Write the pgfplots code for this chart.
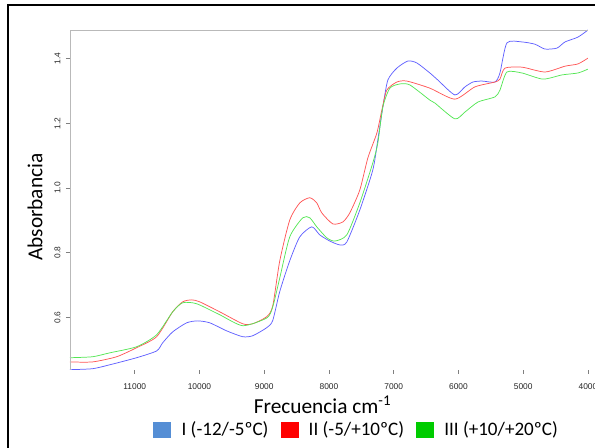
\documentclass[border=0pt]{standalone}
\usepackage{fontspec}
\setmainfont{Carlito}
\newfontfamily\arialf{Liberation Sans}
\usepackage{pgfplots}
\pgfplotsset{compat=1.18}
\definecolor{cblue}{RGB}{95,95,255}
\definecolor{cred}{RGB}{255,85,85}
\definecolor{cgreen}{RGB}{85,230,85}
\definecolor{lblue}{RGB}{85,142,213}
\definecolor{lred}{RGB}{255,0,0}
\definecolor{lgreen}{RGB}{0,204,0}
\begin{document}
\begin{tikzpicture}
\useasboundingbox (0pt,0pt) rectangle (446.25pt,336pt);
\draw[line width=1.1pt] (6pt,-10pt) -- (6pt,332.25pt) -- (460pt,332.25pt);
\begin{axis}[
  at={(52.5pt,58.5pt)}, anchor=south west,
  scale only axis, width=388.5pt, height=255pt,
  xmin=4000, xmax=12000, ymin=0.437, ymax=1.489, x dir=reverse,
  axis line style={draw=none},
  tick align=outside, major tick length=3pt,
  tick style={gray, line width=0.5pt},
  xtick={4000,5000,6000,7000,8000,9000,10000,11000},
  ytick={0.6,0.8,1.0,1.2,1.4},
  scaled x ticks=false, scaled y ticks=false,
  xtick pos=bottom, ytick pos=left,
  ticklabel style={font=\arialf\fontsize{6.3}{7}\selectfont, text=black!85},
  /pgf/number format/assume math mode=true,
  /pgf/number format/1000 sep={},
  xticklabel style={/pgf/number format/fixed, /pgf/number format/precision=0, anchor=north, inner sep=1pt, yshift=-6pt},
  yticklabel style={/pgf/number format/fixed, /pgf/number format/fixed zerofill, /pgf/number format/precision=1, rotate=90, anchor=south, inner sep=4pt},
  xlabel={Frecuencia cm\textsuperscript{-1}},
  ylabel={Absorbancia},
  label style={font=\fontsize{16}{18}\selectfont},
  xlabel style={at={(axis description cs:0.4875,-0.103)}, anchor=center},
  ylabel style={at={(axis description cs:-0.0676,0.479)}, anchor=center},
  legend columns=3,
  legend style={at={(axis description cs:0.554,-0.176)}, anchor=center, draw=none, fill=none,
    font=\fontsize{14.3}{16}\selectfont, inner sep=0pt,
    /tikz/every odd column/.append style={column sep=6pt},
    /tikz/every even column/.append style={column sep=7pt}},
  legend cell align=left,
]
\addlegendimage{legend image code/.code={\fill[lblue] (0pt,-5.6pt) rectangle (12.75pt,5.6pt);}}
\addlegendimage{legend image code/.code={\fill[lred] (0pt,-5.6pt) rectangle (12.75pt,5.6pt);}}
\addlegendimage{legend image code/.code={\fill[lgreen] (0pt,-5.6pt) rectangle (12.75pt,5.6pt);}}
\legend{I (-12/-5ºC), II (-5/+10ºC), III (+10/+20ºC)}

\addplot[cblue, line width=0.55pt, smooth, tension=0.4] coordinates {
(12000,0.438) (11651,0.441) (11388,0.453) (10971,0.475) (10662,0.496) (10569,0.521)
(10414,0.555) (10198,0.583) (10029,0.589) (9842,0.583) (9579,0.558) (9332,0.540)
(9178,0.543) (8961,0.568) (8869,0.590) (8760,0.680) (8606,0.775) (8451,0.849)
(8266,0.880) (8142,0.855) (7988,0.836) (7833,0.824) (7725,0.833) (7524,0.932)
(7323,1.056) (7246,1.149) (7168,1.251) (7091,1.334) (6952,1.371) (6782,1.393)
(6643,1.387) (6442,1.356) (6318,1.334) (6056,1.288) (5901,1.313) (5777,1.328)
(5638,1.331) (5437,1.328) (5360,1.356) (5252,1.449) (5020,1.452) (4819,1.445)
(4665,1.430) (4479,1.433) (4355,1.452) (4155,1.467) (4000,1.489)
};
\addplot[cred, line width=0.55pt, smooth, tension=0.4] coordinates {
(12000,0.462) (11651,0.462) (11280,0.478) (10971,0.506) (10662,0.540) (10414,0.617)
(10259,0.648) (10121,0.654) (9998,0.648) (9688,0.617) (9332,0.580) (9178,0.580)
(8961,0.602) (8869,0.635) (8760,0.775) (8606,0.901) (8451,0.954) (8297,0.970)
(8189,0.954) (8111,0.923) (7941,0.889) (7787,0.895) (7679,0.923) (7524,0.994)
(7400,1.093) (7261,1.170) (7184,1.241) (7107,1.303) (6952,1.328) (6798,1.331)
(6442,1.309) (6056,1.275) (5746,1.313) (5437,1.328) (5360,1.337) (5283,1.371)
(5020,1.374) (4665,1.359) (4355,1.377) (4155,1.384) (4000,1.402)
};
\addplot[cgreen, line width=0.55pt, smooth, tension=0.4] coordinates {
(12000,0.475) (11651,0.478) (11388,0.490) (10971,0.509) (10662,0.546) (10414,0.617)
(10259,0.645) (10044,0.642) (9688,0.608) (9332,0.574) (8961,0.598) (8869,0.632)
(8760,0.722) (8606,0.849) (8405,0.908) (8297,0.908) (8189,0.880) (8034,0.846)
(7910,0.836) (7725,0.855) (7524,0.954) (7323,1.078) (7246,1.139) (7168,1.251)
(7060,1.309) (6906,1.322) (6751,1.319) (6442,1.272) (6365,1.263) (6056,1.214)
(5901,1.235) (5700,1.266) (5437,1.282) (5360,1.303) (5252,1.359) (5020,1.356)
(4696,1.337) (4402,1.350) (4155,1.356) (4000,1.368)
};
\draw[gray!55, line width=0.7pt] (rel axis cs:0,0) -- (rel axis cs:0,1) -- (rel axis cs:1,1);
\draw[gray!85!black, line width=0.7pt] (rel axis cs:1,1) -- (rel axis cs:1,0);
\draw[gray!20, line width=0.7pt] (rel axis cs:0,0) -- (rel axis cs:1,0);
\end{axis}
\end{tikzpicture}
\end{document}
